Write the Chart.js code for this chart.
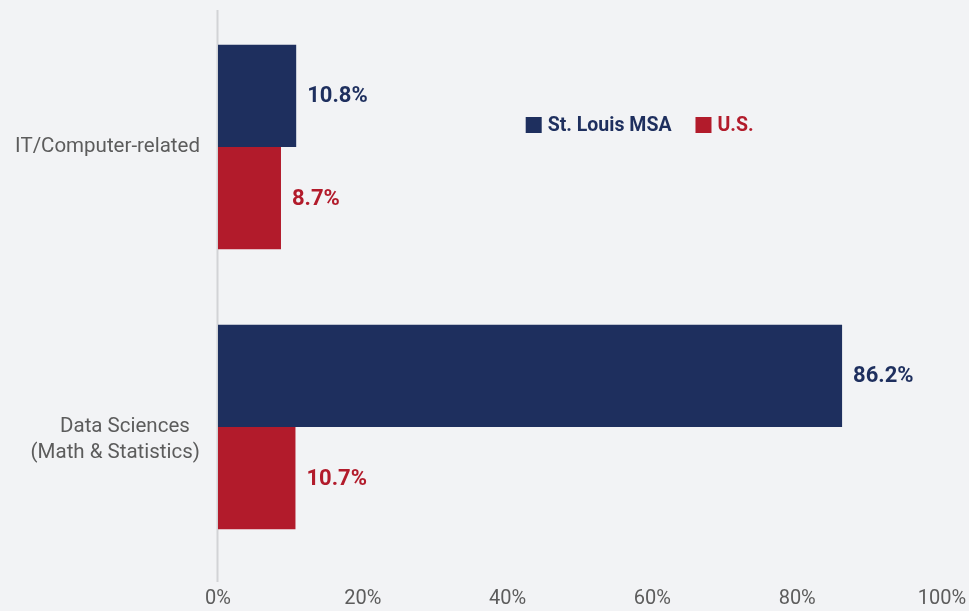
<!DOCTYPE html>
<html>
<head>
<meta charset="utf-8">
<script src="https://cdn.jsdelivr.net/npm/chart.js@4/dist/chart.umd.min.js"></script>
<style>
  html, body { margin: 0; padding: 0; background: #f2f3f5; }
  #wrap { width: 969px; height: 611px; position: relative; }
</style>
</head>
<body>
<div id="wrap"><canvas id="c"></canvas></div>
<script>
const categories = [["IT/Computer-related"], ["", "Data Sciences  ", "(Math & Statistics)"]];
const seriesNames = ["St. Louis MSA", "U.S."];
const stLouis = [10.8, 86.2];
const us = [8.7, 10.7];
const xTicks = [0, 20, 40, 60, 80, 100];

const NAVY = "rgb(30,47,94)";
const RED = "rgb(178,27,43)";
const FONT = "Roboto, 'Liberation Sans', sans-serif";

const overlay = {
  id: "overlay",
  beforeDatasetsDraw(chart) {
    const ctx = chart.ctx, a = chart.chartArea;
    ctx.save();
    ctx.strokeStyle = "#d2d3d6";
    ctx.lineWidth = 2;
    ctx.beginPath();
    ctx.moveTo(a.left - 0.5, a.top + 3);
    ctx.lineTo(a.left - 0.5, a.bottom + 15);
    ctx.stroke();
    ctx.restore();
  },
  afterDatasetsDraw(chart) {
    const ctx = chart.ctx, a = chart.chartArea;
    ctx.save();
    ctx.font = "bold 22px " + FONT;
    ctx.textAlign = "left";
    ctx.textBaseline = "middle";
    chart.data.datasets.forEach((ds, di) => {
      const meta = chart.getDatasetMeta(di);
      ctx.fillStyle = ds.backgroundColor;
      meta.data.forEach((el, i) => {
        ctx.fillText(ds.data[i].toFixed(1) + "%", el.x + 11, el.y + 1);
      });
    });
    ctx.font = "bold 19.5px " + FONT;
    let x = a.left + (a.right - a.left) * 0.425;
    const y = a.top + 118;
    chart.data.datasets.forEach((ds) => {
      ctx.fillStyle = ds.backgroundColor;
      ctx.fillRect(x, y - 8, 16, 16);
      x += 22;
      ctx.fillText(ds.label, x, y + 1);
      x += ctx.measureText(ds.label).width + 24;
    });
    ctx.restore();
  }
};

new Chart(document.getElementById("c"), {
  type: "bar",
  data: {
    labels: categories,
    datasets: [
      { label: seriesNames[0], data: stLouis, backgroundColor: NAVY },
      { label: seriesNames[1], data: us, backgroundColor: RED }
    ]
  },
  options: {
    indexAxis: "y",
    responsive: true,
    maintainAspectRatio: false,
    animation: false,
    layout: { padding: { top: 7, right: 27, bottom: 0, left: 0 } },
    datasets: { bar: { categoryPercentage: 0.73, barPercentage: 1.0 } },
    plugins: { legend: { display: false }, tooltip: { enabled: false } },
    scales: {
      x: {
        min: 0, max: 100,
        afterBuildTicks(scale) { scale.ticks = xTicks.map(v => ({ value: v })); },
        afterFit(scale) { scale.paddingLeft = 0; scale.paddingRight = 0; scale.height = 44; },
        grid: { display: false, drawTicks: false },
        border: { display: false },
        ticks: {
          padding: 20,
          color: "#5c5c5c",
          font: { family: FONT, size: 20, lineHeight: 1.2 },
          callback: (v) => v + "%"
        }
      },
      y: {
        grid: { display: false, drawTicks: false },
        border: { display: false },
        afterFit(scale) { scale.width = 218; scale.paddingTop = 0; scale.paddingBottom = 0; },
        ticks: {
          padding: 18,
          color: "#5c5c5c",
          font: { family: FONT, size: 20.5, lineHeight: 1.25 }
        }
      }
    }
  },
  plugins: [overlay]
});
</script>
</body>
</html>
